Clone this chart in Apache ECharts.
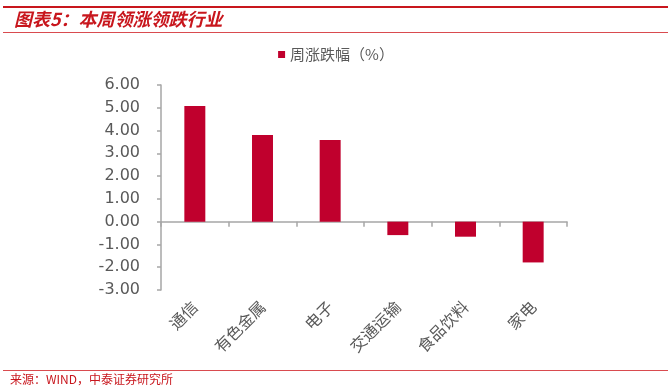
<!DOCTYPE html>
<html>
<head>
<meta charset="utf-8">
<script src="https://cdn.jsdelivr.net/npm/echarts@6/dist/echarts.min.js"></script>
<style>html,body{margin:0;padding:0;background:#fff;}#c{width:672px;height:390px;}</style>
</head>
<body>
<div id="c"></div>
<script>
const categories = ['通信', '有色金属', '电子', '交通运输', '食品饮料', '家电'];
const weeklyChange = [5.08, 3.81, 3.59, -0.59, -0.66, -1.79];
const seriesName = '周涨跌幅（%）';
const yTicks = { min: -3, max: 6, interval: 1 };

const chart = echarts.init(document.getElementById('c'), null, { renderer: 'canvas' });
const red = '#C8161D';
const axisGray = '#A6A6A6';
const textGray = '#595959';
chart.setOption({
  animation: false,
  backgroundColor: '#fff',
  graphic: [
    { type: 'rect', shape: { x: 3, y: 6, width: 665, height: 2 }, style: { fill: red } },
    { type: 'rect', shape: { x: 3, y: 32, width: 665, height: 1 }, style: { fill: '#D94B4F' } },
    { type: 'text', left: 14, top: 10, style: { text: '图表5：本周领涨领跌行业', fill: red, font: 'italic bold 18px "Noto Sans CJK SC"' } },
    { type: 'rect', shape: { x: 3, y: 370, width: 665, height: 1 }, style: { fill: '#D94B4F' } },
    { type: 'text', left: 10, top: 373, style: { text: '来源：WIND，中泰证券研究所', fill: red, font: '12px "Noto Sans CJK SC"' } }
  ],
  legend: {
    data: [seriesName],
    left: 'center',
    top: 42,
    icon: 'rect',
    itemWidth: 7,
    itemHeight: 7,
    itemGap: 5,
    textStyle: { color: textGray, fontSize: 15, fontFamily: 'Noto Sans CJK SC' }
  },
  grid: { left: 161, right: 105, top: 85, bottom: 100, containLabel: false },
  xAxis: [
    {
      type: 'category',
      data: categories,
      position: 'bottom',
      axisLine: { onZero: true, lineStyle: { color: axisGray, width: 1.5 } },
      axisTick: { show: true, length: 5, lineStyle: { color: axisGray, width: 1.5 } },
      axisLabel: { show: false },
      splitLine: { show: false }
    },
    {
      type: 'category',
      data: categories,
      position: 'bottom',
      axisLine: { show: false, onZero: false },
      axisTick: { show: false },
      axisLabel: {
        show: true,
        rotate: 45,
        margin: 14,
        interval: 0,
        color: textGray,
        fontSize: 16,
        fontFamily: 'Noto Sans CJK SC'
      },
      splitLine: { show: false }
    }
  ],
  yAxis: {
    type: 'value',
    min: yTicks.min,
    max: yTicks.max,
    interval: yTicks.interval,
    axisLine: { show: true, lineStyle: { color: axisGray, width: 1.5 } },
    axisTick: { show: true, length: 4, lineStyle: { color: axisGray, width: 1.5 } },
    axisLabel: {
      color: textGray,
      fontSize: 16,
      fontFamily: 'DejaVu Sans',
      margin: 21,
      formatter: v => v.toFixed(2)
    },
    splitLine: { show: false }
  },
  series: [{
    name: seriesName,
    type: 'bar',
    xAxisIndex: 0,
    data: weeklyChange,
    barWidth: '31%',
    itemStyle: { color: '#C0002D' }
  }]
});
</script>
</body>
</html>
